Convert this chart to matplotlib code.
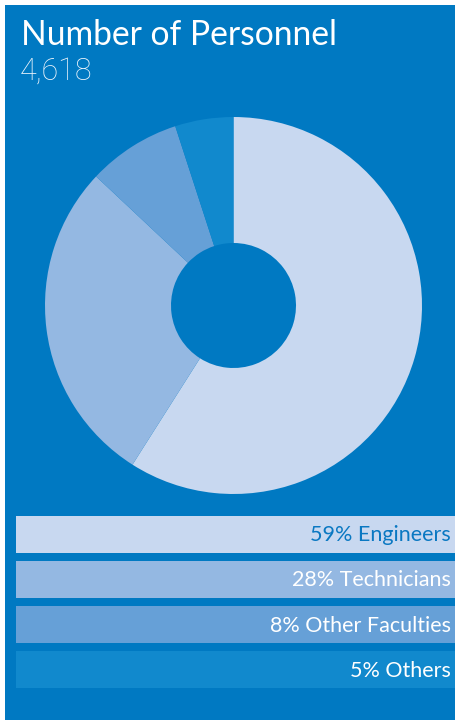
import matplotlib
matplotlib.use("Agg")
import matplotlib.pyplot as plt
from matplotlib.patches import Rectangle

# data
categories = ["Engineers", "Technicians", "Other Faculties", "Others"]
shares = [59, 28, 8, 5]
total = "4,618"
colors = ["#c8d8f0", "#94b8e2", "#66a0d7", "#1189cd"]
text_colors = ["#0a78c2", "white", "white", "white"]

bg = "#0079c2"

plt.rcParams["font.family"] = ["Lato", "DejaVu Sans"]

fig = plt.figure(figsize=(4.56, 7.2), dpi=100, facecolor="white")

# background panel + legend tiles, pixel coordinates
ax = fig.add_axes([0, 0, 1, 1])
ax.set_xlim(0, 456)
ax.set_ylim(720, 0)
ax.axis("off")
ax.add_patch(Rectangle((5, 5), 470, 730, facecolor=bg, edgecolor="none"))

ax.text(21, 45, "Number of Personnel", color="white", fontsize=24.2,
        ha="left", va="baseline")
ax.text(20, 80, total, color="#eef5fc", fontsize=22, fontweight="light",
        family=["Roboto", "DejaVu Sans"], ha="left", va="baseline")

ys = [534 + 45.3 * i for i in range(len(categories))]
ax.barh(ys, [470] * len(ys), left=16, height=37, color=colors)
for y, s, c, tc in zip(ys, shares, categories, text_colors):
    ax.text(451, y + 1, f"{s}% {c}", color=tc, fontsize=15.5,
            ha="right", va="center")

# donut
cx, cy, r = 233.5, 305.5, 188.5
pax = fig.add_axes([(cx - r) / 456, (720 - cy - r) / 720, 2 * r / 456, 2 * r / 720])
pax.pie(shares, colors=colors, startangle=90, counterclock=False,
        wedgeprops=dict(width=126 / r, edgecolor="none"))
pax.set_xlim(-1, 1)
pax.set_ylim(-1, 1)
pax.axis("off")

fig.savefig("out.png", dpi=100, facecolor="white")
